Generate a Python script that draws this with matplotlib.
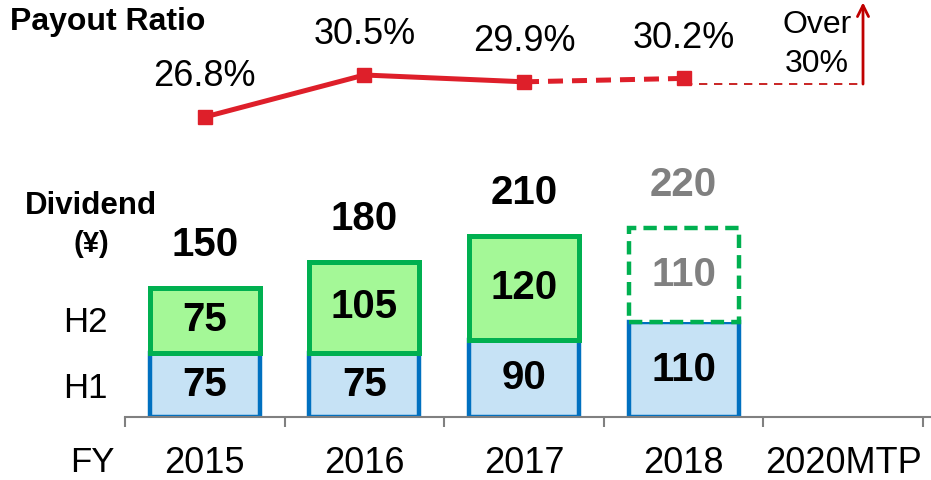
import matplotlib
matplotlib.use("Agg")
import matplotlib.pyplot as plt

plt.rcParams['font.family'] = ['Liberation Sans', 'DejaVu Sans']

years = ["2015", "2016", "2017", "2018", "2020MTP"]
h1 = [75, 75, 90, 110]
h2 = [75, 105, 120, 110]
h2_forecast = [False, False, False, True]
payout = [26.8, 30.5, 29.9, 30.2]
payout_labels = ["26.8%", "30.5%", "29.9%", "30.2%"]
target = 30
target_text = "Over\n30%"

W, H = 931, 480
fig = plt.figure(figsize=(W / 100, H / 100), dpi=100)

def px_axes(left, top, right, bottom):
    return fig.add_axes([left / W, 1 - bottom / H, (right - left) / W, (bottom - top) / H])

RED = "#DE1F2A"
DARKRED = "#C00000"
BLUE_E = "#0070C0"
BLUE_F = "#C6E2F5"
GREEN_E = "#00B050"
GREEN_F = "#A4F897"
GRAY = "#808080"

# ---------------- bar axes ----------------
ax = px_axes(125, 150, 931, 417)
ax.set_xlim(-0.5, 4.55)
ax.set_ylim(0, 267 / 0.86)
for s in ["top", "right", "left"]:
    ax.spines[s].set_visible(False)
ax.spines["bottom"].set_color(GRAY)
ax.spines["bottom"].set_linewidth(1.5)
ax.set_yticks([])
ax.set_xticks(range(len(years)))
ax.set_xticklabels(years, fontsize=26)
ax.tick_params(axis="x", which="major", length=0, pad=21)
ax.set_xticks([i - 0.5 for i in range(len(years) + 1)], minor=True)
ax.tick_params(axis="x", which="minor", length=7.5, width=1.5, color=GRAY)

bw = 0.69
xs = list(range(len(h1)))
ax.bar(xs, h1, width=bw, color=BLUE_F, edgecolor=BLUE_E, linewidth=3.2, zorder=2)
for i in xs:
    if h2_forecast[i]:
        ax.bar(i, h2[i], bottom=h1[i], width=bw, color="white", edgecolor=GREEN_E,
               linewidth=3.2, linestyle=(0, (3, 1.6)), zorder=3)
    else:
        ax.bar(i, h2[i], bottom=h1[i], width=bw, color=GREEN_F, edgecolor=GREEN_E,
               linewidth=3.6, zorder=3)

for i in xs:
    ax.text(i, h1[i] / 2, str(h1[i]), ha="center", va="center", fontsize=29,
            fontweight="bold", color="black", zorder=5)
    c2 = GRAY if h2_forecast[i] else "black"
    ax.text(i, h1[i] + h2[i] / 2, str(h2[i]), ha="center", va="center", fontsize=29,
            fontweight="bold", color=c2, zorder=5)
    tot = h1[i] + h2[i]
    ax.annotate(str(tot), (i, tot), xytext=(0, 31), textcoords="offset points",
                ha="center", va="center", fontsize=29, fontweight="bold",
                color=GRAY if h2_forecast[i] else "black")

fig.text(85 / W, 1 - 322 / H, "H2", ha="center", va="center", fontsize=25)
fig.text(85 / W, 1 - 388 / H, "H1", ha="center", va="center", fontsize=25)
fig.text(92 / W, 1 - 462 / H, "FY", ha="center", va="center", fontsize=25)
fig.text(91 / W, 1 - 206 / H, "Dividend", ha="center", va="center", fontsize=22.5, fontweight="bold")
fig.text(91 / W, 1 - 244 / H, "(¥)", ha="center", va="center", fontsize=21, fontweight="bold")
fig.text(108 / W, 1 - 22 / H, "Payout Ratio", ha="center", va="center", fontsize=23, fontweight="bold")

# ---------------- line axes ----------------
ax2 = px_axes(125, 0, 931, 150)
ax2.set_xlim(-0.5, 4.55)
ax2.set_ylim(30.5 - 75 / 11.35, 30.5 + 75 / 11.35)
ax2.axis("off")

ax2.plot(xs[:3], payout[:3], color=RED, lw=3.6, marker="s", markersize=10, zorder=3)
ax2.plot(xs[2:4], payout[2:4], color=RED, lw=3.6, ls=(0, (3, 1.8)), zorder=3)
ax2.plot(xs[3], payout[3], color=RED, marker="s", markersize=10, zorder=4)
for i in xs:
    ax2.annotate(payout_labels[i], (i, payout[i]), xytext=(0, 29), textcoords="offset points",
                 ha="center", va="center", fontsize=26)

arrow_x = 4.124
target_y = target - 0.3
ax2.plot([xs[3], arrow_x], [target_y, target_y], color=DARKRED, lw=1.2, ls=(0, (5, 4)), zorder=2)
ax2.annotate("", xy=(arrow_x, 36.9), xytext=(arrow_x, target_y),
             arrowprops=dict(arrowstyle="->,head_length=0.8,head_width=0.4", color=DARKRED, lw=2,
                             shrinkA=0, shrinkB=0))
ax2.text(3.836, 33.2, target_text, ha="center", va="center", fontsize=23, linespacing=1.4)

fig.savefig("out.png", dpi=100)
